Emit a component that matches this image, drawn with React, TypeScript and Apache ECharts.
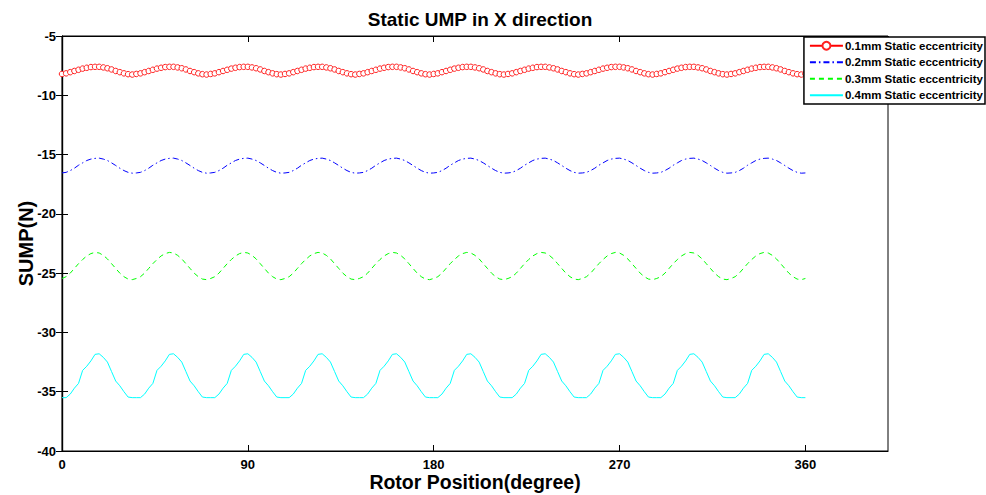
import React, { useEffect, useRef } from "react";
import * as echarts from "echarts";

// Rotor position sampled every 2 degrees, 0..360
const STEP_DEG = 2;

const seriesNames = [
  "0.1mm Static eccentricity",
  "0.2mm Static eccentricity",
  "0.3mm Static eccentricity",
  "0.4mm Static eccentricity",
];

const ump01 = [
  -8.2, -8.15, -8.05, -7.95, -7.85, -7.75, -7.68, -7.62, -7.6, -7.6, -7.65, -7.72, -7.82, -7.95, -8.05, -8.15, -8.22, -8.25,
  -8.2, -8.15, -8.05, -7.95, -7.85, -7.75, -7.68, -7.62, -7.6, -7.6, -7.65, -7.72, -7.82, -7.95, -8.05, -8.15, -8.22, -8.25,
  -8.2, -8.15, -8.05, -7.95, -7.85, -7.75, -7.68, -7.62, -7.6, -7.6, -7.65, -7.72, -7.82, -7.95, -8.05, -8.15, -8.22, -8.25,
  -8.2, -8.15, -8.05, -7.95, -7.85, -7.75, -7.68, -7.62, -7.6, -7.6, -7.65, -7.72, -7.82, -7.95, -8.05, -8.15, -8.22, -8.25,
  -8.2, -8.15, -8.05, -7.95, -7.85, -7.75, -7.68, -7.62, -7.6, -7.6, -7.65, -7.72, -7.82, -7.95, -8.05, -8.15, -8.22, -8.25,
  -8.2, -8.15, -8.05, -7.95, -7.85, -7.75, -7.68, -7.62, -7.6, -7.6, -7.65, -7.72, -7.82, -7.95, -8.05, -8.15, -8.22, -8.25,
  -8.2, -8.15, -8.05, -7.95, -7.85, -7.75, -7.68, -7.62, -7.6, -7.6, -7.65, -7.72, -7.82, -7.95, -8.05, -8.15, -8.22, -8.25,
  -8.2, -8.15, -8.05, -7.95, -7.85, -7.75, -7.68, -7.62, -7.6, -7.6, -7.65, -7.72, -7.82, -7.95, -8.05, -8.15, -8.22, -8.25,
  -8.2, -8.15, -8.05, -7.95, -7.85, -7.75, -7.68, -7.62, -7.6, -7.6, -7.65, -7.72, -7.82, -7.95, -8.05, -8.15, -8.22, -8.25,
  -8.2, -8.15, -8.05, -7.95, -7.85, -7.75, -7.68, -7.62, -7.6, -7.6, -7.65, -7.72, -7.82, -7.95, -8.05, -8.15, -8.22, -8.25,
  -8.2,
];

const ump02 = [
  -16.55, -16.5, -16.35, -16.15, -15.9, -15.7, -15.5, -15.38, -15.32, -15.3, -15.38, -15.5, -15.7, -15.92, -16.15, -16.35, -16.5, -16.57,
  -16.55, -16.5, -16.35, -16.15, -15.9, -15.7, -15.5, -15.38, -15.32, -15.3, -15.38, -15.5, -15.7, -15.92, -16.15, -16.35, -16.5, -16.57,
  -16.55, -16.5, -16.35, -16.15, -15.9, -15.7, -15.5, -15.38, -15.32, -15.3, -15.38, -15.5, -15.7, -15.92, -16.15, -16.35, -16.5, -16.57,
  -16.55, -16.5, -16.35, -16.15, -15.9, -15.7, -15.5, -15.38, -15.32, -15.3, -15.38, -15.5, -15.7, -15.92, -16.15, -16.35, -16.5, -16.57,
  -16.55, -16.5, -16.35, -16.15, -15.9, -15.7, -15.5, -15.38, -15.32, -15.3, -15.38, -15.5, -15.7, -15.92, -16.15, -16.35, -16.5, -16.57,
  -16.55, -16.5, -16.35, -16.15, -15.9, -15.7, -15.5, -15.38, -15.32, -15.3, -15.38, -15.5, -15.7, -15.92, -16.15, -16.35, -16.5, -16.57,
  -16.55, -16.5, -16.35, -16.15, -15.9, -15.7, -15.5, -15.38, -15.32, -15.3, -15.38, -15.5, -15.7, -15.92, -16.15, -16.35, -16.5, -16.57,
  -16.55, -16.5, -16.35, -16.15, -15.9, -15.7, -15.5, -15.38, -15.32, -15.3, -15.38, -15.5, -15.7, -15.92, -16.15, -16.35, -16.5, -16.57,
  -16.55, -16.5, -16.35, -16.15, -15.9, -15.7, -15.5, -15.38, -15.32, -15.3, -15.38, -15.5, -15.7, -15.92, -16.15, -16.35, -16.5, -16.57,
  -16.55, -16.5, -16.35, -16.15, -15.9, -15.7, -15.5, -15.38, -15.32, -15.3, -15.38, -15.5, -15.7, -15.92, -16.15, -16.35, -16.5, -16.57,
  -16.55,
];

const ump03 = [
  -25.45, -25.3, -25.0, -24.6, -24.2, -23.85, -23.55, -23.35, -23.25, -23.3, -23.5, -23.8, -24.2, -24.6, -25.0, -25.3, -25.5, -25.55,
  -25.45, -25.3, -25.0, -24.6, -24.2, -23.85, -23.55, -23.35, -23.25, -23.3, -23.5, -23.8, -24.2, -24.6, -25.0, -25.3, -25.5, -25.55,
  -25.45, -25.3, -25.0, -24.6, -24.2, -23.85, -23.55, -23.35, -23.25, -23.3, -23.5, -23.8, -24.2, -24.6, -25.0, -25.3, -25.5, -25.55,
  -25.45, -25.3, -25.0, -24.6, -24.2, -23.85, -23.55, -23.35, -23.25, -23.3, -23.5, -23.8, -24.2, -24.6, -25.0, -25.3, -25.5, -25.55,
  -25.45, -25.3, -25.0, -24.6, -24.2, -23.85, -23.55, -23.35, -23.25, -23.3, -23.5, -23.8, -24.2, -24.6, -25.0, -25.3, -25.5, -25.55,
  -25.45, -25.3, -25.0, -24.6, -24.2, -23.85, -23.55, -23.35, -23.25, -23.3, -23.5, -23.8, -24.2, -24.6, -25.0, -25.3, -25.5, -25.55,
  -25.45, -25.3, -25.0, -24.6, -24.2, -23.85, -23.55, -23.35, -23.25, -23.3, -23.5, -23.8, -24.2, -24.6, -25.0, -25.3, -25.5, -25.55,
  -25.45, -25.3, -25.0, -24.6, -24.2, -23.85, -23.55, -23.35, -23.25, -23.3, -23.5, -23.8, -24.2, -24.6, -25.0, -25.3, -25.5, -25.55,
  -25.45, -25.3, -25.0, -24.6, -24.2, -23.85, -23.55, -23.35, -23.25, -23.3, -23.5, -23.8, -24.2, -24.6, -25.0, -25.3, -25.5, -25.55,
  -25.45, -25.3, -25.0, -24.6, -24.2, -23.85, -23.55, -23.35, -23.25, -23.3, -23.5, -23.8, -24.2, -24.6, -25.0, -25.3, -25.5, -25.55,
  -25.45,
];

const ump04 = [
  -35.5, -35.5, -35.2, -34.7, -34.3, -33.2, -32.85, -32.4, -31.85, -31.8, -32.1, -32.5, -33.3, -34.1, -34.5, -35.0, -35.45, -35.5,
  -35.5, -35.5, -35.2, -34.7, -34.3, -33.2, -32.85, -32.4, -31.85, -31.8, -32.1, -32.5, -33.3, -34.1, -34.5, -35.0, -35.45, -35.5,
  -35.5, -35.5, -35.2, -34.7, -34.3, -33.2, -32.85, -32.4, -31.85, -31.8, -32.1, -32.5, -33.3, -34.1, -34.5, -35.0, -35.45, -35.5,
  -35.5, -35.5, -35.2, -34.7, -34.3, -33.2, -32.85, -32.4, -31.85, -31.8, -32.1, -32.5, -33.3, -34.1, -34.5, -35.0, -35.45, -35.5,
  -35.5, -35.5, -35.2, -34.7, -34.3, -33.2, -32.85, -32.4, -31.85, -31.8, -32.1, -32.5, -33.3, -34.1, -34.5, -35.0, -35.45, -35.5,
  -35.5, -35.5, -35.2, -34.7, -34.3, -33.2, -32.85, -32.4, -31.85, -31.8, -32.1, -32.5, -33.3, -34.1, -34.5, -35.0, -35.45, -35.5,
  -35.5, -35.5, -35.2, -34.7, -34.3, -33.2, -32.85, -32.4, -31.85, -31.8, -32.1, -32.5, -33.3, -34.1, -34.5, -35.0, -35.45, -35.5,
  -35.5, -35.5, -35.2, -34.7, -34.3, -33.2, -32.85, -32.4, -31.85, -31.8, -32.1, -32.5, -33.3, -34.1, -34.5, -35.0, -35.45, -35.5,
  -35.5, -35.5, -35.2, -34.7, -34.3, -33.2, -32.85, -32.4, -31.85, -31.8, -32.1, -32.5, -33.3, -34.1, -34.5, -35.0, -35.45, -35.5,
  -35.5, -35.5, -35.2, -34.7, -34.3, -33.2, -32.85, -32.4, -31.85, -31.8, -32.1, -32.5, -33.3, -34.1, -34.5, -35.0, -35.45, -35.5,
  -35.5,
];

const FONT = "'Liberation Sans', Arial, sans-serif";

function toPairs(values: number[]) {
  return values.map((v, i) => [i * STEP_DEG, v]);
}

export default function App() {
  const ref = useRef<HTMLDivElement>(null);

  useEffect(() => {
    document.body.style.margin = "0";
    if (!ref.current) return;
    const chart = echarts.init(ref.current, null, { renderer: "svg" });

    const axisLabelStyle = {
      color: "#000",
      fontFamily: FONT,
      fontWeight: "bold" as const,
      fontSize: 13,
      lineHeight: 13,
    };
    const tick = { show: true, inside: true, length: 6, lineStyle: { color: "#000" } };
    const line = { show: true, lineStyle: { color: "#000", width: 1.2 } };

    const option = {
      animation: false,
      backgroundColor: "#fff",
      title: {
        text: "Static UMP in X direction",
        left: 475,
        textAlign: "center",
        top: 5,
        textStyle: { color: "#000", fontFamily: FONT, fontWeight: "bold", fontSize: 19 },
      },
      legend: {
        orient: "vertical",
        right: 1,
        top: 37,
        backgroundColor: "#fff",
        borderColor: "#000",
        borderWidth: 1.5,
        borderRadius: 0,
        padding: [2, 2, 2, 5],
        itemWidth: 33,
        itemHeight: 10,
        itemGap: 3,
        textStyle: {
          color: "#000",
          fontFamily: FONT,
          fontWeight: "bold",
          fontSize: 11.5,
          lineHeight: 13.5,
          padding: [0, 0, 0, -3],
        },
        data: [
          { name: seriesNames[0] },
          { name: seriesNames[1], itemStyle: { opacity: 0 } },
          { name: seriesNames[2], itemStyle: { opacity: 0 } },
          { name: seriesNames[3], itemStyle: { opacity: 0 } },
        ],
      },
      grid: {
        left: 62,
        right: 98,
        top: 36,
        bottom: 44,
        containLabel: false,
        outerBoundsMode: "none",
        show: true,
        borderColor: "#000",
        borderWidth: 1,
      },
      xAxis: [
        {
          type: "value",
          min: 0,
          max: 400,
          interval: 90,
          position: "bottom",
          name: "Rotor Position(degree)",
          nameLocation: "middle",
          nameGap: 21,
          nameMoveOverlap: false,
          nameTextStyle: {
            color: "#000",
            fontFamily: FONT,
            fontWeight: "bold",
            fontSize: 19.5,
            lineHeight: 19,
          },
          axisLine: line,
          axisTick: tick,
          axisLabel: { ...axisLabelStyle, margin: 7, showMaxLabel: false },
          splitLine: { show: false },
        },
        {
          type: "value",
          min: 0,
          max: 400,
          interval: 90,
          position: "top",
          axisLine: line,
          axisTick: tick,
          axisLabel: { show: false },
          splitLine: { show: false },
        },
      ],
      yAxis: [
        {
          type: "value",
          min: -40,
          max: -5,
          interval: 5,
          position: "left",
          name: "SUMP(N)",
          nameLocation: "middle",
          nameGap: 26,
          nameMoveOverlap: false,
          nameTextStyle: { color: "#000", fontFamily: FONT, fontWeight: "bold", fontSize: 20, padding: [0, 0, 0, 0] },
          axisLine: line,
          axisTick: tick,
          axisLabel: { ...axisLabelStyle, margin: 6 },
          splitLine: { show: false },
        },
        {
          type: "value",
          min: -40,
          max: -5,
          interval: 5,
          position: "right",
          axisLine: line,
          axisTick: tick,
          axisLabel: { show: false },
          splitLine: { show: false },
        },
      ],
      series: [
        {
          name: seriesNames[0],
          type: "line",
          data: toPairs(ump01),
          symbol: "circle",
          symbolSize: 5.5,
          showSymbol: true,
          showAllSymbol: true,
          color: "#ff0000",
          itemStyle: { color: "#fff", borderColor: "#ff2020", borderWidth: 1 },
          lineStyle: { color: "#ff0000", width: 1 },
        },
        {
          name: seriesNames[1],
          type: "line",
          data: toPairs(ump02),
          symbol: "none",
          color: "#0000ff",
          lineStyle: { color: "#0000ff", width: 1, type: [6, 3, 1.5, 3] },
        },
        {
          name: seriesNames[2],
          type: "line",
          data: toPairs(ump03),
          symbol: "none",
          color: "#00ff00",
          lineStyle: { color: "#00ff00", width: 1, type: [5, 4] },
        },
        {
          name: seriesNames[3],
          type: "line",
          data: toPairs(ump04),
          symbol: "none",
          color: "#00ffff",
          lineStyle: { color: "#00ffff", width: 1 },
        },
      ],
    };

    chart.setOption(option as any);
    return () => chart.dispose();
  }, []);

  return (
    <div
      ref={ref}
      style={{ position: "fixed", left: 0, top: 0, width: 986, height: 495 }}
    />
  );
}
